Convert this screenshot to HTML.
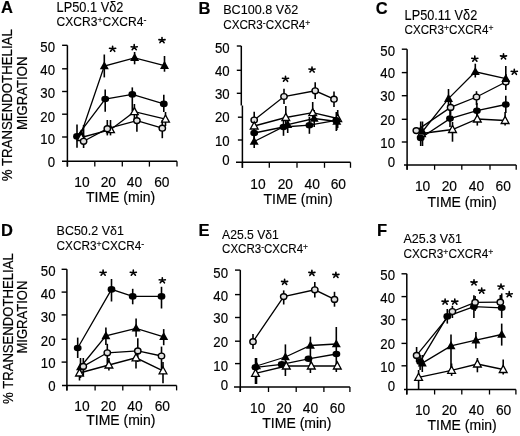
<!DOCTYPE html>
<html><head><meta charset="utf-8"><style>
html,body{margin:0;padding:0;background:#fff;}
svg{display:block;filter:blur(0.35px);}
svg text{stroke:#000;stroke-width:0.18px;}
svg text.ns{stroke-width:0.12px;}
</style></head><body>
<svg width="520" height="436" viewBox="0 0 520 436" font-family='"Liberation Sans", sans-serif' stroke="#000" fill="#000">
<rect x="0" y="0" width="520" height="436" fill="#fff" stroke="none"/>
<g stroke="none">
</g>
<g>
<text x="1" y="13.3" font-size="16.5" font-weight="bold">A</text>
<text x="56.6" y="11.6" font-size="14.5" textLength="66.8" lengthAdjust="spacingAndGlyphs" class="ns">LP50.1 V&#948;2</text>
<text x="56.6" y="25.6" font-size="12.2" textLength="89.8" lengthAdjust="spacingAndGlyphs" class="ns">CXCR3<tspan font-size="9" dy="-3">+</tspan><tspan dy="3">CXCR4</tspan><tspan font-size="9" dy="-3">-</tspan></text>
<line x1="67.4" y1="45.3" x2="67.4" y2="166.6" stroke-width="1.5"/>
<line x1="62.1" y1="45.3" x2="67.4" y2="45.3" stroke-width="1.4"/>
<line x1="62.1" y1="68.8" x2="67.4" y2="68.8" stroke-width="1.4"/>
<line x1="62.1" y1="91.5" x2="67.4" y2="91.5" stroke-width="1.4"/>
<line x1="62.1" y1="114.2" x2="67.4" y2="114.2" stroke-width="1.4"/>
<line x1="62.1" y1="137" x2="67.4" y2="137" stroke-width="1.4"/>
<text transform="translate(55,51.8) scale(0.91,1)" font-size="14.5" text-anchor="end">50</text>
<text transform="translate(55,75.1) scale(0.91,1)" font-size="14.5" text-anchor="end">40</text>
<text transform="translate(55,98.3) scale(0.91,1)" font-size="14.5" text-anchor="end">30</text>
<text transform="translate(55,121.6) scale(0.91,1)" font-size="14.5" text-anchor="end">20</text>
<text transform="translate(55,144.3) scale(0.91,1)" font-size="14.5" text-anchor="end">10</text>
<text transform="translate(55,166.5) scale(0.91,1)" font-size="14.5" text-anchor="end">0</text>
<line x1="62" y1="161.2" x2="177" y2="161.2" stroke-width="1.5"/>
<line x1="67.4" y1="161.2" x2="67.4" y2="166.6" stroke-width="1.3"/>
<line x1="94.8" y1="161.2" x2="94.8" y2="166.6" stroke-width="1.3"/>
<line x1="122.3" y1="161.2" x2="122.3" y2="166.6" stroke-width="1.3"/>
<line x1="149.4" y1="161.2" x2="149.4" y2="166.6" stroke-width="1.3"/>
<line x1="177" y1="161.2" x2="177" y2="166.6" stroke-width="1.3"/>
<text transform="translate(81.9,187) scale(0.92,1)" font-size="15" text-anchor="middle">10</text>
<text transform="translate(108.3,187) scale(0.92,1)" font-size="15" text-anchor="middle">20</text>
<text transform="translate(134.4,187) scale(0.92,1)" font-size="15" text-anchor="middle">40</text>
<text transform="translate(161.8,187) scale(0.92,1)" font-size="15" text-anchor="middle">60</text>
<text x="86" y="201.8" font-size="14">TIME (min)</text>
<polyline points="81,134.3 104.3,66 134.6,57.8 164.5,65.6" fill="none" stroke-width="1.3"/>
<polyline points="77,136.4 105.2,99 132.3,94.4 163.8,103.9" fill="none" stroke-width="1.3"/>
<polyline points="81.2,137.5 110.5,129.7 134.4,111.7 165.5,119.1" fill="none" stroke-width="1.3"/>
<polyline points="83.6,141.3 107.3,128.7 136.9,120.6 162.3,128.2" fill="none" stroke-width="1.3"/>
<line x1="104.3" y1="54.5" x2="104.3" y2="77.4" stroke-width="1.6"/>
<line x1="134.6" y1="52" x2="134.6" y2="64.3" stroke-width="1.6"/>
<line x1="164.5" y1="56" x2="164.5" y2="71.7" stroke-width="1.6"/>
<line x1="77" y1="124.4" x2="77" y2="147.7" stroke-width="1.6"/>
<line x1="105.2" y1="89.5" x2="105.2" y2="111.7" stroke-width="1.6"/>
<line x1="132.3" y1="87.4" x2="132.3" y2="111" stroke-width="1.6"/>
<line x1="163.8" y1="94.8" x2="163.8" y2="112" stroke-width="1.6"/>
<line x1="110.5" y1="120" x2="110.5" y2="135.4" stroke-width="1.6"/>
<line x1="134.4" y1="104" x2="134.4" y2="122" stroke-width="1.6"/>
<line x1="165.5" y1="112" x2="165.5" y2="126" stroke-width="1.6"/>
<line x1="83.6" y1="125" x2="83.6" y2="148" stroke-width="1.6"/>
<line x1="107.3" y1="120" x2="107.3" y2="135.4" stroke-width="1.6"/>
<line x1="136.9" y1="112" x2="136.9" y2="131.8" stroke-width="1.6"/>
<line x1="162.3" y1="120" x2="162.3" y2="138.2" stroke-width="1.6"/>
<polygon points="81,129.5 85.5,137.6 76.5,137.6" fill="#000" stroke="none"/>
<polygon points="104.3,61.2 108.8,69.3 99.8,69.3" fill="#000" stroke="none"/>
<polygon points="134.6,53.0 139.1,61.1 130.1,61.1" fill="#000" stroke="none"/>
<polygon points="164.5,60.8 169.0,68.9 160.0,68.9" fill="#000" stroke="none"/>
<ellipse cx="77" cy="136.4" rx="3.9" ry="3.3" fill="#000" stroke="none"/>
<ellipse cx="105.2" cy="99" rx="3.9" ry="3.3" fill="#000" stroke="none"/>
<ellipse cx="132.3" cy="94.4" rx="3.9" ry="3.3" fill="#000" stroke="none"/>
<ellipse cx="163.8" cy="103.9" rx="3.9" ry="3.3" fill="#000" stroke="none"/>
<polygon points="81.2,133.4 85.1,140.5 77.3,140.5" fill="#fff" stroke-width="1.3" stroke-linejoin="miter"/>
<polygon points="110.5,125.6 114.4,132.7 106.6,132.7" fill="#fff" stroke-width="1.3" stroke-linejoin="miter"/>
<polygon points="134.4,107.6 138.3,114.7 130.5,114.7" fill="#fff" stroke-width="1.3" stroke-linejoin="miter"/>
<polygon points="165.5,115.0 169.4,122.1 161.6,122.1" fill="#fff" stroke-width="1.3" stroke-linejoin="miter"/>
<ellipse cx="83.6" cy="141.3" rx="3.2" ry="2.9" fill="#e0e0e0" stroke-width="1.4"/>
<ellipse cx="107.3" cy="128.7" rx="3.2" ry="2.9" fill="#e0e0e0" stroke-width="1.4"/>
<ellipse cx="136.9" cy="120.6" rx="3.2" ry="2.9" fill="#e0e0e0" stroke-width="1.4"/>
<ellipse cx="162.3" cy="128.2" rx="3.2" ry="2.9" fill="#e0e0e0" stroke-width="1.4"/>
<path d="M112.60,48.80L112.60,46.25M112.60,48.80L109.54,48.29M112.60,48.80L115.66,48.29M112.60,48.80L110.56,51.27M112.60,48.80L114.72,51.35" stroke-width="1.6" stroke-linecap="round" fill="none"/>
<path d="M134.20,47.20L134.20,44.65M134.20,47.20L131.14,46.69M134.20,47.20L137.26,46.69M134.20,47.20L132.16,49.67M134.20,47.20L136.32,49.75" stroke-width="1.6" stroke-linecap="round" fill="none"/>
<path d="M162.00,40.10L162.00,37.55M162.00,40.10L158.94,39.59M162.00,40.10L165.06,39.59M162.00,40.10L159.96,42.56M162.00,40.10L164.12,42.65" stroke-width="1.6" stroke-linecap="round" fill="none"/>
</g>
<g>
<text x="198.5" y="13.5" font-size="16.5" font-weight="bold">B</text>
<text x="223.2" y="13.9" font-size="13.2" textLength="75" lengthAdjust="spacingAndGlyphs" class="ns">BC100.8 V&#948;2</text>
<text x="223.2" y="28.8" font-size="12.2" textLength="87.2" lengthAdjust="spacingAndGlyphs" class="ns">CXCR3<tspan font-size="9" dy="-3">-</tspan><tspan dy="3">CXCR4</tspan><tspan font-size="9" dy="-3">+</tspan></text>
<line x1="241.3" y1="46" x2="241.3" y2="105.5" stroke-width="1.5"/>
<line x1="242.4" y1="105.5" x2="242.4" y2="167.8" stroke-width="1.5"/>
<line x1="236.8" y1="46" x2="241.3" y2="46" stroke-width="1.4"/>
<line x1="236.8" y1="70.3" x2="241.3" y2="70.3" stroke-width="1.4"/>
<line x1="236.8" y1="93.3" x2="241.3" y2="93.3" stroke-width="1.4"/>
<line x1="237.9" y1="117.2" x2="242.4" y2="117.2" stroke-width="1.4"/>
<line x1="237.9" y1="140" x2="242.4" y2="140" stroke-width="1.4"/>
<text transform="translate(229.7,52.9) scale(0.91,1)" font-size="14.5" text-anchor="end">50</text>
<text transform="translate(229.7,75.6) scale(0.91,1)" font-size="14.5" text-anchor="end">40</text>
<text transform="translate(229.7,98.5) scale(0.91,1)" font-size="14.5" text-anchor="end">30</text>
<text transform="translate(229.7,122.3) scale(0.91,1)" font-size="14.5" text-anchor="end">20</text>
<text transform="translate(229.7,145.8) scale(0.91,1)" font-size="14.5" text-anchor="end">10</text>
<text transform="translate(229.7,164.6) scale(0.91,1)" font-size="14.5" text-anchor="end">0</text>
<line x1="236" y1="162.3" x2="350.5" y2="162.3" stroke-width="1.5"/>
<line x1="242.4" y1="162.3" x2="242.4" y2="167.8" stroke-width="1.3"/>
<line x1="269.3" y1="162.3" x2="269.3" y2="167.8" stroke-width="1.3"/>
<line x1="297" y1="162.3" x2="297" y2="167.8" stroke-width="1.3"/>
<line x1="324.5" y1="162.3" x2="324.5" y2="167.8" stroke-width="1.3"/>
<line x1="350.5" y1="162.3" x2="350.5" y2="167.8" stroke-width="1.3"/>
<text transform="translate(258,188.8) scale(0.92,1)" font-size="15" text-anchor="middle">10</text>
<text transform="translate(285.3,188.8) scale(0.92,1)" font-size="15" text-anchor="middle">20</text>
<text transform="translate(312.2,188.8) scale(0.92,1)" font-size="15" text-anchor="middle">40</text>
<text transform="translate(338.3,188.8) scale(0.92,1)" font-size="15" text-anchor="middle">60</text>
<text x="263.5" y="204" font-size="14">TIME (min)</text>
<polyline points="254.2,120 284,96.5 315.2,90.8 334,99.2" fill="none" stroke-width="1.3"/>
<polyline points="254.2,126 285.8,117.5 312.7,112.7 337.7,118.5" fill="none" stroke-width="1.3"/>
<polyline points="254.2,133 283.5,127 309.4,125.2 336.3,120.4" fill="none" stroke-width="1.3"/>
<polyline points="254.2,141.5 287.7,124.6 314.2,118.5 336.8,121.5" fill="none" stroke-width="1.3"/>
<line x1="254.2" y1="111.7" x2="254.2" y2="128" stroke-width="1.6"/>
<line x1="284" y1="88.7" x2="284" y2="104" stroke-width="1.6"/>
<line x1="315.2" y1="82.3" x2="315.2" y2="99" stroke-width="1.6"/>
<line x1="334" y1="91.5" x2="334" y2="107" stroke-width="1.6"/>
<line x1="254.2" y1="118" x2="254.2" y2="134" stroke-width="1.6"/>
<line x1="285.8" y1="106" x2="285.8" y2="128" stroke-width="1.6"/>
<line x1="312.7" y1="102" x2="312.7" y2="121" stroke-width="1.6"/>
<line x1="337.7" y1="110" x2="337.7" y2="128" stroke-width="1.6"/>
<line x1="254.2" y1="126" x2="254.2" y2="141" stroke-width="1.6"/>
<line x1="283.5" y1="118" x2="283.5" y2="135.8" stroke-width="1.6"/>
<line x1="309.4" y1="117" x2="309.4" y2="133.8" stroke-width="1.6"/>
<line x1="336.3" y1="112" x2="336.3" y2="131" stroke-width="1.6"/>
<line x1="254.2" y1="134" x2="254.2" y2="148" stroke-width="1.6"/>
<line x1="287.7" y1="117" x2="287.7" y2="133" stroke-width="1.6"/>
<line x1="314.2" y1="110" x2="314.2" y2="127" stroke-width="1.6"/>
<line x1="336.8" y1="114" x2="336.8" y2="130" stroke-width="1.6"/>
<ellipse cx="254.2" cy="120" rx="3.2" ry="2.9" fill="#e0e0e0" stroke-width="1.4"/>
<ellipse cx="284" cy="96.5" rx="3.2" ry="2.9" fill="#e0e0e0" stroke-width="1.4"/>
<ellipse cx="315.2" cy="90.8" rx="3.2" ry="2.9" fill="#e0e0e0" stroke-width="1.4"/>
<ellipse cx="334" cy="99.2" rx="3.2" ry="2.9" fill="#e0e0e0" stroke-width="1.4"/>
<polygon points="254.2,121.9 258.1,129.0 250.3,129.0" fill="#fff" stroke-width="1.3" stroke-linejoin="miter"/>
<polygon points="285.8,113.4 289.7,120.5 281.9,120.5" fill="#fff" stroke-width="1.3" stroke-linejoin="miter"/>
<polygon points="312.7,108.6 316.6,115.7 308.8,115.7" fill="#fff" stroke-width="1.3" stroke-linejoin="miter"/>
<polygon points="337.7,114.4 341.6,121.5 333.8,121.5" fill="#fff" stroke-width="1.3" stroke-linejoin="miter"/>
<ellipse cx="254.2" cy="133" rx="3.9" ry="3.3" fill="#000" stroke="none"/>
<ellipse cx="283.5" cy="127" rx="3.9" ry="3.3" fill="#000" stroke="none"/>
<ellipse cx="309.4" cy="125.2" rx="3.9" ry="3.3" fill="#000" stroke="none"/>
<ellipse cx="336.3" cy="120.4" rx="3.9" ry="3.3" fill="#000" stroke="none"/>
<polygon points="254.2,136.7 258.7,144.8 249.7,144.8" fill="#000" stroke="none"/>
<polygon points="287.7,119.8 292.2,127.9 283.2,127.9" fill="#000" stroke="none"/>
<polygon points="314.2,113.7 318.7,121.8 309.7,121.8" fill="#000" stroke="none"/>
<polygon points="336.8,116.7 341.3,124.8 332.3,124.8" fill="#000" stroke="none"/>
<path d="M285.50,78.75L285.50,76.20M285.50,78.75L282.44,78.24M285.50,78.75L288.56,78.24M285.50,78.75L283.46,81.22M285.50,78.75L287.62,81.30" stroke-width="1.6" stroke-linecap="round" fill="none"/>
<path d="M312.00,69.50L312.00,66.95M312.00,69.50L308.94,68.99M312.00,69.50L315.06,68.99M312.00,69.50L309.96,71.97M312.00,69.50L314.12,72.05" stroke-width="1.6" stroke-linecap="round" fill="none"/>
</g>
<g>
<text x="375.8" y="13.6" font-size="16.5" font-weight="bold">C</text>
<text x="404.6" y="19.6" font-size="14.1" textLength="72.7" lengthAdjust="spacingAndGlyphs" class="ns">LP50.11 V&#948;2</text>
<text x="404.6" y="33.6" font-size="12.2" textLength="88.8" lengthAdjust="spacingAndGlyphs" class="ns">CXCR3<tspan font-size="9" dy="-3">+</tspan><tspan dy="3">CXCR4</tspan><tspan font-size="9" dy="-3">+</tspan></text>
<line x1="407.1" y1="49.2" x2="407.1" y2="169.8" stroke-width="1.5"/>
<line x1="401.8" y1="49.2" x2="407.1" y2="49.2" stroke-width="1.4"/>
<line x1="401.8" y1="72.6" x2="407.1" y2="72.6" stroke-width="1.4"/>
<line x1="401.8" y1="95.7" x2="407.1" y2="95.7" stroke-width="1.4"/>
<line x1="401.8" y1="119.3" x2="407.1" y2="119.3" stroke-width="1.4"/>
<line x1="401.8" y1="142" x2="407.1" y2="142" stroke-width="1.4"/>
<text transform="translate(395,55.6) scale(0.91,1)" font-size="14.5" text-anchor="end">50</text>
<text transform="translate(395,78.1) scale(0.91,1)" font-size="14.5" text-anchor="end">40</text>
<text transform="translate(395,100.9) scale(0.91,1)" font-size="14.5" text-anchor="end">30</text>
<text transform="translate(395,125.1) scale(0.91,1)" font-size="14.5" text-anchor="end">20</text>
<text transform="translate(395,148.3) scale(0.91,1)" font-size="14.5" text-anchor="end">10</text>
<text transform="translate(395,167.3) scale(0.91,1)" font-size="14.5" text-anchor="end">0</text>
<line x1="404" y1="164.9" x2="516.2" y2="164.9" stroke-width="1.5"/>
<line x1="407.1" y1="164.9" x2="407.1" y2="169.8" stroke-width="1.3"/>
<line x1="434.6" y1="164.9" x2="434.6" y2="169.8" stroke-width="1.3"/>
<line x1="461.8" y1="164.9" x2="461.8" y2="169.8" stroke-width="1.3"/>
<line x1="490" y1="164.9" x2="490" y2="169.8" stroke-width="1.3"/>
<line x1="516.2" y1="164.9" x2="516.2" y2="169.8" stroke-width="1.3"/>
<text transform="translate(422.6,191.2) scale(0.92,1)" font-size="15" text-anchor="middle">10</text>
<text transform="translate(449.3,191.2) scale(0.92,1)" font-size="15" text-anchor="middle">20</text>
<text transform="translate(476.4,191.2) scale(0.92,1)" font-size="15" text-anchor="middle">40</text>
<text transform="translate(503.2,191.2) scale(0.92,1)" font-size="15" text-anchor="middle">60</text>
<text x="427.5" y="206.5" font-size="14">TIME (min)</text>
<polyline points="421.5,133.5 452.5,129.5 477.3,119 505.1,120.5" fill="none" stroke-width="1.3"/>
<polyline points="416.3,130.6 450.6,107.4 476.5,97 505.8,82" fill="none" stroke-width="1.3"/>
<polyline points="420.7,138 450,118.6 476.9,110.7 505.8,104.5" fill="none" stroke-width="1.3"/>
<polyline points="422.5,131.5 448.5,98.6 475.3,71.8 505.8,78.6" fill="none" stroke-width="1.3"/>
<line x1="452.5" y1="122" x2="452.5" y2="141.7" stroke-width="1.6"/>
<line x1="477.3" y1="110" x2="477.3" y2="125.6" stroke-width="1.6"/>
<line x1="505.1" y1="111.9" x2="505.1" y2="125.6" stroke-width="1.6"/>
<line x1="450.6" y1="100" x2="450.6" y2="115" stroke-width="1.6"/>
<line x1="476.5" y1="91.2" x2="476.5" y2="105" stroke-width="1.6"/>
<line x1="505.8" y1="74" x2="505.8" y2="90" stroke-width="1.6"/>
<line x1="420.7" y1="121.5" x2="420.7" y2="146" stroke-width="1.6"/>
<line x1="450" y1="110" x2="450" y2="127" stroke-width="1.6"/>
<line x1="476.9" y1="103" x2="476.9" y2="119" stroke-width="1.6"/>
<line x1="505.8" y1="95.8" x2="505.8" y2="113" stroke-width="1.6"/>
<line x1="422.5" y1="121.5" x2="422.5" y2="146" stroke-width="1.6"/>
<line x1="448.5" y1="89" x2="448.5" y2="108" stroke-width="1.6"/>
<line x1="475.3" y1="63.7" x2="475.3" y2="77.5" stroke-width="1.6"/>
<line x1="505.8" y1="66" x2="505.8" y2="86" stroke-width="1.6"/>
<polygon points="421.5,129.4 425.4,136.5 417.6,136.5" fill="#fff" stroke-width="1.3" stroke-linejoin="miter"/>
<polygon points="452.5,125.4 456.4,132.5 448.6,132.5" fill="#fff" stroke-width="1.3" stroke-linejoin="miter"/>
<polygon points="477.3,114.9 481.2,122.0 473.4,122.0" fill="#fff" stroke-width="1.3" stroke-linejoin="miter"/>
<polygon points="505.1,116.4 509.0,123.5 501.2,123.5" fill="#fff" stroke-width="1.3" stroke-linejoin="miter"/>
<ellipse cx="416.3" cy="130.6" rx="3.2" ry="2.9" fill="#e0e0e0" stroke-width="1.4"/>
<ellipse cx="450.6" cy="107.4" rx="3.2" ry="2.9" fill="#e0e0e0" stroke-width="1.4"/>
<ellipse cx="476.5" cy="97" rx="3.2" ry="2.9" fill="#e0e0e0" stroke-width="1.4"/>
<ellipse cx="505.8" cy="82" rx="3.2" ry="2.9" fill="#e0e0e0" stroke-width="1.4"/>
<ellipse cx="420.7" cy="138" rx="3.9" ry="3.3" fill="#000" stroke="none"/>
<ellipse cx="450" cy="118.6" rx="3.9" ry="3.3" fill="#000" stroke="none"/>
<ellipse cx="476.9" cy="110.7" rx="3.9" ry="3.3" fill="#000" stroke="none"/>
<ellipse cx="505.8" cy="104.5" rx="3.9" ry="3.3" fill="#000" stroke="none"/>
<polygon points="422.5,126.7 427.0,134.8 418.0,134.8" fill="#000" stroke="none"/>
<polygon points="448.5,93.8 453.0,101.9 444.0,101.9" fill="#000" stroke="none"/>
<polygon points="475.3,67.0 479.8,75.1 470.8,75.1" fill="#000" stroke="none"/>
<polygon points="505.8,73.8 510.3,81.9 501.3,81.9" fill="#000" stroke="none"/>
<path d="M474.80,58.70L474.80,56.15M474.80,58.70L471.74,58.19M474.80,58.70L477.86,58.19M474.80,58.70L472.76,61.17M474.80,58.70L476.93,61.25" stroke-width="1.6" stroke-linecap="round" fill="none"/>
<path d="M503.50,56.40L503.50,53.85M503.50,56.40L500.44,55.89M503.50,56.40L506.56,55.89M503.50,56.40L501.46,58.86M503.50,56.40L505.62,58.95" stroke-width="1.6" stroke-linecap="round" fill="none"/>
<path d="M514.30,71.80L514.30,69.25M514.30,71.80L511.24,71.29M514.30,71.80L517.36,71.29M514.30,71.80L512.26,74.27M514.30,71.80L516.42,74.35" stroke-width="1.6" stroke-linecap="round" fill="none"/>
</g>
<g>
<text x="1.0" y="235.9" font-size="16.5" font-weight="bold">D</text>
<text x="56.6" y="235.4" font-size="13.5" textLength="67.3" lengthAdjust="spacingAndGlyphs" class="ns">BC50.2 V&#948;1</text>
<text x="56.6" y="249.6" font-size="12.2" textLength="87.6" lengthAdjust="spacingAndGlyphs" class="ns">CXCR3<tspan font-size="9" dy="-3">+</tspan><tspan dy="3">CXCR4</tspan><tspan font-size="9" dy="-3">-</tspan></text>
<line x1="66.9" y1="269.3" x2="66.9" y2="390.4" stroke-width="1.5"/>
<line x1="61.6" y1="269.3" x2="66.9" y2="269.3" stroke-width="1.4"/>
<line x1="61.6" y1="292.1" x2="66.9" y2="292.1" stroke-width="1.4"/>
<line x1="61.6" y1="314.9" x2="66.9" y2="314.9" stroke-width="1.4"/>
<line x1="61.6" y1="339.3" x2="66.9" y2="339.3" stroke-width="1.4"/>
<line x1="61.6" y1="362.1" x2="66.9" y2="362.1" stroke-width="1.4"/>
<text transform="translate(55.5,276.0) scale(0.91,1)" font-size="14.5" text-anchor="end">50</text>
<text transform="translate(55.5,298.6) scale(0.91,1)" font-size="14.5" text-anchor="end">40</text>
<text transform="translate(55.5,321.5) scale(0.91,1)" font-size="14.5" text-anchor="end">30</text>
<text transform="translate(55.5,345.5) scale(0.91,1)" font-size="14.5" text-anchor="end">20</text>
<text transform="translate(55.5,368.1) scale(0.91,1)" font-size="14.5" text-anchor="end">10</text>
<text transform="translate(55.5,391.0) scale(0.91,1)" font-size="14.5" text-anchor="end">0</text>
<line x1="62" y1="385.5" x2="176.6" y2="385.5" stroke-width="1.5"/>
<line x1="66.9" y1="385.5" x2="66.9" y2="390.4" stroke-width="1.3"/>
<line x1="95.1" y1="385.5" x2="95.1" y2="390.4" stroke-width="1.3"/>
<line x1="122.8" y1="385.5" x2="122.8" y2="390.4" stroke-width="1.3"/>
<line x1="150" y1="385.5" x2="150" y2="390.4" stroke-width="1.3"/>
<line x1="176.6" y1="385.5" x2="176.6" y2="390.4" stroke-width="1.3"/>
<text transform="translate(81.9,411.2) scale(0.92,1)" font-size="15" text-anchor="middle">10</text>
<text transform="translate(108.5,411.2) scale(0.92,1)" font-size="15" text-anchor="middle">20</text>
<text transform="translate(135,411.2) scale(0.92,1)" font-size="15" text-anchor="middle">40</text>
<text transform="translate(162.3,411.2) scale(0.92,1)" font-size="15" text-anchor="middle">60</text>
<text x="86.2" y="425" font-size="14">TIME (min)</text>
<polyline points="77.7,348 111.5,289.4 132.7,296.4 161.5,296.4" fill="none" stroke-width="1.3"/>
<polyline points="80.5,367 105.9,335.9 136.1,328.3 163.7,336.8" fill="none" stroke-width="1.3"/>
<polyline points="83.3,366.4 107.3,352.8 137.8,350.9 161.5,356" fill="none" stroke-width="1.3"/>
<polyline points="79.5,373 108.9,365 136,357.8 163,370.8" fill="none" stroke-width="1.3"/>
<line x1="77.7" y1="337.6" x2="77.7" y2="358" stroke-width="1.6"/>
<line x1="111.5" y1="279" x2="111.5" y2="301.5" stroke-width="1.6"/>
<line x1="132.7" y1="288.8" x2="132.7" y2="304.3" stroke-width="1.6"/>
<line x1="161.5" y1="286.8" x2="161.5" y2="308.5" stroke-width="1.6"/>
<line x1="80.5" y1="358" x2="80.5" y2="378" stroke-width="1.6"/>
<line x1="105.9" y1="327.4" x2="105.9" y2="345" stroke-width="1.6"/>
<line x1="136.1" y1="318.4" x2="136.1" y2="336.8" stroke-width="1.6"/>
<line x1="163.7" y1="329.1" x2="163.7" y2="345.2" stroke-width="1.6"/>
<line x1="83.3" y1="358" x2="83.3" y2="376" stroke-width="1.6"/>
<line x1="107.3" y1="343.8" x2="107.3" y2="363.5" stroke-width="1.6"/>
<line x1="137.8" y1="338.2" x2="137.8" y2="362.1" stroke-width="1.6"/>
<line x1="161.5" y1="346.6" x2="161.5" y2="369.2" stroke-width="1.6"/>
<line x1="79.5" y1="366" x2="79.5" y2="380.5" stroke-width="1.6"/>
<line x1="108.9" y1="358" x2="108.9" y2="370.6" stroke-width="1.6"/>
<line x1="136" y1="350" x2="136" y2="368.6" stroke-width="1.6"/>
<line x1="163" y1="362" x2="163" y2="383.3" stroke-width="1.6"/>
<ellipse cx="77.7" cy="348" rx="3.9" ry="3.3" fill="#000" stroke="none"/>
<ellipse cx="111.5" cy="289.4" rx="3.9" ry="3.3" fill="#000" stroke="none"/>
<ellipse cx="132.7" cy="296.4" rx="3.9" ry="3.3" fill="#000" stroke="none"/>
<ellipse cx="161.5" cy="296.4" rx="3.9" ry="3.3" fill="#000" stroke="none"/>
<polygon points="80.5,362.2 85.0,370.3 76.0,370.3" fill="#000" stroke="none"/>
<polygon points="105.9,331.1 110.4,339.2 101.4,339.2" fill="#000" stroke="none"/>
<polygon points="136.1,323.5 140.6,331.6 131.6,331.6" fill="#000" stroke="none"/>
<polygon points="163.7,332.0 168.2,340.1 159.2,340.1" fill="#000" stroke="none"/>
<ellipse cx="83.3" cy="366.4" rx="3.2" ry="2.9" fill="#e0e0e0" stroke-width="1.4"/>
<ellipse cx="107.3" cy="352.8" rx="3.2" ry="2.9" fill="#e0e0e0" stroke-width="1.4"/>
<ellipse cx="137.8" cy="350.9" rx="3.2" ry="2.9" fill="#e0e0e0" stroke-width="1.4"/>
<ellipse cx="161.5" cy="356" rx="3.2" ry="2.9" fill="#e0e0e0" stroke-width="1.4"/>
<polygon points="79.5,368.9 83.4,376.0 75.6,376.0" fill="#fff" stroke-width="1.3" stroke-linejoin="miter"/>
<polygon points="108.9,360.9 112.8,368.0 105.0,368.0" fill="#fff" stroke-width="1.3" stroke-linejoin="miter"/>
<polygon points="136,353.7 139.9,360.8 132.1,360.8" fill="#fff" stroke-width="1.3" stroke-linejoin="miter"/>
<polygon points="163,366.7 166.9,373.8 159.1,373.8" fill="#fff" stroke-width="1.3" stroke-linejoin="miter"/>
<path d="M103.10,272.70L103.10,270.15M103.10,272.70L100.04,272.19M103.10,272.70L106.16,272.19M103.10,272.70L101.06,275.16M103.10,272.70L105.22,275.25" stroke-width="1.6" stroke-linecap="round" fill="none"/>
<path d="M133.30,272.70L133.30,270.15M133.30,272.70L130.24,272.19M133.30,272.70L136.36,272.19M133.30,272.70L131.26,275.16M133.30,272.70L135.43,275.25" stroke-width="1.6" stroke-linecap="round" fill="none"/>
<path d="M162.30,280.30L162.30,277.75M162.30,280.30L159.24,279.79M162.30,280.30L165.36,279.79M162.30,280.30L160.26,282.76M162.30,280.30L164.43,282.85" stroke-width="1.6" stroke-linecap="round" fill="none"/>
</g>
<g>
<text x="198.5" y="236" font-size="16.5" font-weight="bold">E</text>
<text x="222.1" y="238.6" font-size="13.1" textLength="56.8" lengthAdjust="spacingAndGlyphs" class="ns">A25.5 V&#948;1</text>
<text x="222.1" y="253.1" font-size="12.2" textLength="86" lengthAdjust="spacingAndGlyphs" class="ns">CXCR3<tspan font-size="9" dy="-3">-</tspan><tspan dy="3">CXCR4</tspan><tspan font-size="9" dy="-3">+</tspan></text>
<line x1="240.3" y1="270.1" x2="240.3" y2="392" stroke-width="1.5"/>
<line x1="235.0" y1="270.1" x2="240.3" y2="270.1" stroke-width="1.4"/>
<line x1="235.0" y1="294.6" x2="240.3" y2="294.6" stroke-width="1.4"/>
<line x1="235.0" y1="317.5" x2="240.3" y2="317.5" stroke-width="1.4"/>
<line x1="235.0" y1="341.2" x2="240.3" y2="341.2" stroke-width="1.4"/>
<line x1="235.0" y1="363.6" x2="240.3" y2="363.6" stroke-width="1.4"/>
<text transform="translate(228,277.6) scale(0.91,1)" font-size="14.5" text-anchor="end">50</text>
<text transform="translate(228,300.5) scale(0.91,1)" font-size="14.5" text-anchor="end">40</text>
<text transform="translate(228,322.9) scale(0.91,1)" font-size="14.5" text-anchor="end">30</text>
<text transform="translate(228,346.8) scale(0.91,1)" font-size="14.5" text-anchor="end">20</text>
<text transform="translate(228,370.5) scale(0.91,1)" font-size="14.5" text-anchor="end">10</text>
<text transform="translate(228,389.8) scale(0.91,1)" font-size="14.5" text-anchor="end">0</text>
<line x1="234" y1="386.9" x2="349.9" y2="386.9" stroke-width="1.5"/>
<line x1="240.3" y1="386.9" x2="240.3" y2="392" stroke-width="1.3"/>
<line x1="268.5" y1="386.9" x2="268.5" y2="392" stroke-width="1.3"/>
<line x1="296.2" y1="386.9" x2="296.2" y2="392" stroke-width="1.3"/>
<line x1="323.9" y1="386.9" x2="323.9" y2="392" stroke-width="1.3"/>
<line x1="349.9" y1="386.9" x2="349.9" y2="392" stroke-width="1.3"/>
<text transform="translate(257.7,413.2) scale(0.92,1)" font-size="15" text-anchor="middle">10</text>
<text transform="translate(284,413.2) scale(0.92,1)" font-size="15" text-anchor="middle">20</text>
<text transform="translate(310.5,413.2) scale(0.92,1)" font-size="15" text-anchor="middle">40</text>
<text transform="translate(337.5,413.2) scale(0.92,1)" font-size="15" text-anchor="middle">60</text>
<text x="262.3" y="427.5" font-size="14">TIME (min)</text>
<polyline points="253,341.7 283.7,296.6 314.8,289.8 334.5,299.4" fill="none" stroke-width="1.3"/>
<polyline points="256.5,366 285.4,357 310.4,345.5 336.3,344" fill="none" stroke-width="1.3"/>
<polyline points="255.5,367.3 281.7,364.4 308.5,358.8 336.4,354" fill="none" stroke-width="1.3"/>
<polyline points="255.5,373.4 286.3,366 311.3,366 337.3,366" fill="none" stroke-width="1.3"/>
<line x1="253" y1="334.1" x2="253" y2="349" stroke-width="1.6"/>
<line x1="283.7" y1="290.4" x2="283.7" y2="304.5" stroke-width="1.6"/>
<line x1="314.8" y1="281.9" x2="314.8" y2="297.4" stroke-width="1.6"/>
<line x1="334.5" y1="291.8" x2="334.5" y2="306.7" stroke-width="1.6"/>
<line x1="256.5" y1="358" x2="256.5" y2="384" stroke-width="1.6"/>
<line x1="285.4" y1="344.4" x2="285.4" y2="376" stroke-width="1.6"/>
<line x1="310.4" y1="336.7" x2="310.4" y2="373" stroke-width="1.6"/>
<line x1="336.3" y1="327" x2="336.3" y2="372" stroke-width="1.6"/>
<line x1="255.5" y1="358" x2="255.5" y2="384" stroke-width="1.6"/>
<ellipse cx="253" cy="341.7" rx="3.2" ry="2.9" fill="#e0e0e0" stroke-width="1.4"/>
<ellipse cx="283.7" cy="296.6" rx="3.2" ry="2.9" fill="#e0e0e0" stroke-width="1.4"/>
<ellipse cx="314.8" cy="289.8" rx="3.2" ry="2.9" fill="#e0e0e0" stroke-width="1.4"/>
<ellipse cx="334.5" cy="299.4" rx="3.2" ry="2.9" fill="#e0e0e0" stroke-width="1.4"/>
<polygon points="256.5,361.2 261.0,369.3 252.0,369.3" fill="#000" stroke="none"/>
<polygon points="285.4,352.2 289.9,360.3 280.9,360.3" fill="#000" stroke="none"/>
<polygon points="310.4,340.7 314.9,348.8 305.9,348.8" fill="#000" stroke="none"/>
<polygon points="336.3,339.2 340.8,347.3 331.8,347.3" fill="#000" stroke="none"/>
<ellipse cx="255.5" cy="367.3" rx="3.9" ry="3.3" fill="#000" stroke="none"/>
<ellipse cx="281.7" cy="364.4" rx="3.9" ry="3.3" fill="#000" stroke="none"/>
<ellipse cx="308.5" cy="358.8" rx="3.9" ry="3.3" fill="#000" stroke="none"/>
<ellipse cx="336.4" cy="354" rx="3.9" ry="3.3" fill="#000" stroke="none"/>
<polygon points="255.5,369.3 259.4,376.4 251.6,376.4" fill="#fff" stroke-width="1.3" stroke-linejoin="miter"/>
<polygon points="286.3,361.9 290.2,369.0 282.4,369.0" fill="#fff" stroke-width="1.3" stroke-linejoin="miter"/>
<polygon points="311.3,361.9 315.2,369.0 307.4,369.0" fill="#fff" stroke-width="1.3" stroke-linejoin="miter"/>
<polygon points="337.3,361.9 341.2,369.0 333.4,369.0" fill="#fff" stroke-width="1.3" stroke-linejoin="miter"/>
<path d="M284.60,281.90L284.60,279.35M284.60,281.90L281.54,281.39M284.60,281.90L287.66,281.39M284.60,281.90L282.56,284.36M284.60,281.90L286.73,284.45" stroke-width="1.6" stroke-linecap="round" fill="none"/>
<path d="M311.90,272.90L311.90,270.35M311.90,272.90L308.84,272.39M311.90,272.90L314.96,272.39M311.90,272.90L309.86,275.36M311.90,272.90L314.02,275.45" stroke-width="1.6" stroke-linecap="round" fill="none"/>
<path d="M335.90,274.90L335.90,272.35M335.90,274.90L332.84,274.39M335.90,274.90L338.96,274.39M335.90,274.90L333.86,277.36M335.90,274.90L338.02,277.45" stroke-width="1.6" stroke-linecap="round" fill="none"/>
</g>
<g>
<text x="377" y="236" font-size="16.5" font-weight="bold">F</text>
<text x="403.5" y="243.1" font-size="13.6" textLength="58.4" lengthAdjust="spacingAndGlyphs" class="ns">A25.3 V&#948;1</text>
<text x="403.5" y="257.6" font-size="12.2" textLength="89.9" lengthAdjust="spacingAndGlyphs" class="ns">CXCR3<tspan font-size="9" dy="-3">+</tspan><tspan dy="3">CXCR4</tspan><tspan font-size="9" dy="-3">+</tspan></text>
<line x1="406.8" y1="273.8" x2="406.8" y2="394.5" stroke-width="1.5"/>
<line x1="401.5" y1="273.8" x2="406.8" y2="273.8" stroke-width="1.4"/>
<line x1="401.5" y1="296.6" x2="406.8" y2="296.6" stroke-width="1.4"/>
<line x1="401.5" y1="319.6" x2="406.8" y2="319.6" stroke-width="1.4"/>
<line x1="401.5" y1="343.4" x2="406.8" y2="343.4" stroke-width="1.4"/>
<line x1="401.5" y1="365.8" x2="406.8" y2="365.8" stroke-width="1.4"/>
<text transform="translate(395,279.7) scale(0.91,1)" font-size="14.5" text-anchor="end">50</text>
<text transform="translate(395,303.0) scale(0.91,1)" font-size="14.5" text-anchor="end">40</text>
<text transform="translate(395,325.1) scale(0.91,1)" font-size="14.5" text-anchor="end">30</text>
<text transform="translate(395,349.0) scale(0.91,1)" font-size="14.5" text-anchor="end">20</text>
<text transform="translate(395,372.3) scale(0.91,1)" font-size="14.5" text-anchor="end">10</text>
<text transform="translate(395,391.3) scale(0.91,1)" font-size="14.5" text-anchor="end">0</text>
<line x1="404" y1="389.6" x2="515.9" y2="389.6" stroke-width="1.5"/>
<line x1="406.8" y1="389.6" x2="406.8" y2="394.5" stroke-width="1.3"/>
<line x1="434.6" y1="389.6" x2="434.6" y2="394.5" stroke-width="1.3"/>
<line x1="461.8" y1="389.6" x2="461.8" y2="394.5" stroke-width="1.3"/>
<line x1="489.5" y1="389.6" x2="489.5" y2="394.5" stroke-width="1.3"/>
<line x1="515.9" y1="389.6" x2="515.9" y2="394.5" stroke-width="1.3"/>
<text transform="translate(422.6,415.3) scale(0.92,1)" font-size="15" text-anchor="middle">10</text>
<text transform="translate(449.3,415.3) scale(0.92,1)" font-size="15" text-anchor="middle">20</text>
<text transform="translate(476.4,415.3) scale(0.92,1)" font-size="15" text-anchor="middle">40</text>
<text transform="translate(503.6,415.3) scale(0.92,1)" font-size="15" text-anchor="middle">60</text>
<text x="427.5" y="430" font-size="14">TIME (min)</text>
<polyline points="422.3,363.1 451,345.9 475.9,340.2 501.7,334.5" fill="none" stroke-width="1.3"/>
<polyline points="418.6,377.4 451.6,370.3 477.4,364 503.2,369.5" fill="none" stroke-width="1.3"/>
<polyline points="420.1,361.7 447.3,316.4 473.9,306.7 501.7,307.8" fill="none" stroke-width="1.3"/>
<polyline points="416.6,355.4 452.4,311.5 475.1,302.4 500.3,302.2" fill="none" stroke-width="1.3"/>
<line x1="422.3" y1="355" x2="422.3" y2="372" stroke-width="1.6"/>
<line x1="451" y1="334.6" x2="451" y2="373" stroke-width="1.6"/>
<line x1="475.9" y1="331.9" x2="475.9" y2="348.4" stroke-width="1.6"/>
<line x1="501.7" y1="323.6" x2="501.7" y2="345.6" stroke-width="1.6"/>
<line x1="418.6" y1="370" x2="418.6" y2="389" stroke-width="1.6"/>
<line x1="451.6" y1="363.5" x2="451.6" y2="375.9" stroke-width="1.6"/>
<line x1="477.4" y1="358" x2="477.4" y2="372.3" stroke-width="1.6"/>
<line x1="503.2" y1="359.4" x2="503.2" y2="374.5" stroke-width="1.6"/>
<line x1="420.1" y1="355" x2="420.1" y2="370" stroke-width="1.6"/>
<line x1="447.3" y1="309" x2="447.3" y2="323.6" stroke-width="1.6"/>
<line x1="473.9" y1="295.3" x2="473.9" y2="318" stroke-width="1.6"/>
<line x1="501.7" y1="293.4" x2="501.7" y2="318" stroke-width="1.6"/>
<line x1="416.6" y1="347" x2="416.6" y2="362" stroke-width="1.6"/>
<line x1="452.4" y1="305.8" x2="452.4" y2="318" stroke-width="1.6"/>
<line x1="475.1" y1="296" x2="475.1" y2="311" stroke-width="1.6"/>
<line x1="500.3" y1="295" x2="500.3" y2="310" stroke-width="1.6"/>
<polygon points="422.3,358.3 426.8,366.4 417.8,366.4" fill="#000" stroke="none"/>
<polygon points="451,341.1 455.5,349.2 446.5,349.2" fill="#000" stroke="none"/>
<polygon points="475.9,335.4 480.4,343.5 471.4,343.5" fill="#000" stroke="none"/>
<polygon points="501.7,329.7 506.2,337.8 497.2,337.8" fill="#000" stroke="none"/>
<polygon points="418.6,373.3 422.5,380.4 414.7,380.4" fill="#fff" stroke-width="1.3" stroke-linejoin="miter"/>
<polygon points="451.6,366.2 455.5,373.3 447.7,373.3" fill="#fff" stroke-width="1.3" stroke-linejoin="miter"/>
<polygon points="477.4,359.9 481.3,367.0 473.5,367.0" fill="#fff" stroke-width="1.3" stroke-linejoin="miter"/>
<polygon points="503.2,365.4 507.1,372.5 499.3,372.5" fill="#fff" stroke-width="1.3" stroke-linejoin="miter"/>
<ellipse cx="420.1" cy="361.7" rx="3.9" ry="3.3" fill="#000" stroke="none"/>
<ellipse cx="447.3" cy="316.4" rx="3.9" ry="3.3" fill="#000" stroke="none"/>
<ellipse cx="473.9" cy="306.7" rx="3.9" ry="3.3" fill="#000" stroke="none"/>
<ellipse cx="501.7" cy="307.8" rx="3.9" ry="3.3" fill="#000" stroke="none"/>
<ellipse cx="416.6" cy="355.4" rx="3.2" ry="2.9" fill="#e0e0e0" stroke-width="1.4"/>
<ellipse cx="452.4" cy="311.5" rx="3.2" ry="2.9" fill="#e0e0e0" stroke-width="1.4"/>
<ellipse cx="475.1" cy="302.4" rx="3.2" ry="2.9" fill="#e0e0e0" stroke-width="1.4"/>
<ellipse cx="500.3" cy="302.2" rx="3.2" ry="2.9" fill="#e0e0e0" stroke-width="1.4"/>
<path d="M445.10,301.60L445.10,299.05M445.10,301.60L442.04,301.09M445.10,301.60L448.16,301.09M445.10,301.60L443.06,304.06M445.10,301.60L447.23,304.15" stroke-width="1.6" stroke-linecap="round" fill="none"/>
<path d="M454.80,301.60L454.80,299.05M454.80,301.60L451.74,301.09M454.80,301.60L457.86,301.09M454.80,301.60L452.76,304.06M454.80,301.60L456.93,304.15" stroke-width="1.6" stroke-linecap="round" fill="none"/>
<path d="M474.00,282.40L474.00,279.85M474.00,282.40L470.94,281.89M474.00,282.40L477.06,281.89M474.00,282.40L471.96,284.86M474.00,282.40L476.12,284.95" stroke-width="1.6" stroke-linecap="round" fill="none"/>
<path d="M481.70,290.60L481.70,288.05M481.70,290.60L478.64,290.09M481.70,290.60L484.76,290.09M481.70,290.60L479.66,293.06M481.70,290.60L483.82,293.15" stroke-width="1.6" stroke-linecap="round" fill="none"/>
<path d="M501.00,286.50L501.00,283.95M501.00,286.50L497.94,285.99M501.00,286.50L504.06,285.99M501.00,286.50L498.96,288.96M501.00,286.50L503.12,289.05" stroke-width="1.6" stroke-linecap="round" fill="none"/>
<path d="M509.20,294.20L509.20,291.65M509.20,294.20L506.14,293.69M509.20,294.20L512.26,293.69M509.20,294.20L507.16,296.66M509.20,294.20L511.32,296.75" stroke-width="1.6" stroke-linecap="round" fill="none"/>
</g>
<text transform="translate(11.8,181.3) rotate(-90)" font-size="14.2" textLength="152.1" lengthAdjust="spacingAndGlyphs">% TRANSENDOTHELIAL</text>
<text transform="translate(26.9,130.1) rotate(-90)" font-size="14.2" textLength="73.5" lengthAdjust="spacingAndGlyphs">MIGRATION</text>
<text transform="translate(12.6,403.9) rotate(-90)" font-size="14.2" textLength="150.6" lengthAdjust="spacingAndGlyphs">% TRANSENDOTHELIAL</text>
<text transform="translate(27.3,353.5) rotate(-90)" font-size="14.2" textLength="72.9" lengthAdjust="spacingAndGlyphs">MIGRATION</text>
</svg>
</body></html>
